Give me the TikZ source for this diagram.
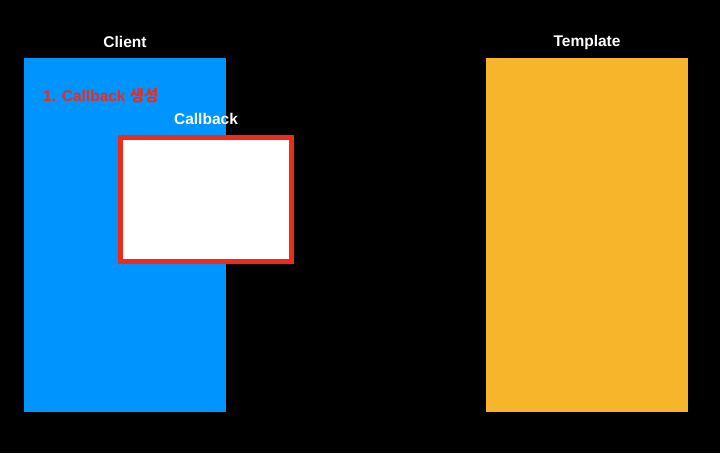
\documentclass[tikz,border=0pt]{standalone}
\usepackage{fontspec}
\setmainfont{Liberation Sans}
\newfontfamily\kor{Noto Sans CJK KR}
\definecolor{bgblack}{HTML}{000000}
\definecolor{clientblue}{HTML}{0094FF}
\definecolor{tplorange}{HTML}{F6B52B}
\definecolor{cbred}{HTML}{EE2B1B}
\begin{document}
\begin{tikzpicture}[x=1pt,y=-1pt,
  lbl/.style={font=\fontsize{15.5}{18}\selectfont\bfseries, text=white, inner sep=0pt, anchor=center},
  panel/.style={draw=none, inner sep=0pt, minimum width=202pt, minimum height=354pt, anchor=north west}]
\fill[bgblack] (0,0) rectangle (720,453);
\useasboundingbox (0,0) rectangle (720,453);
\node[panel, fill=clientblue] (client) at (24,58) {};
\node[panel, fill=tplorange] (template) at (486,58) {};
\node[lbl] (clientlbl) at (125,42) {Client};
\node[lbl] (templatelbl) at (587,42) {Template};
\node[draw=cbred, line width=5pt, fill=white, inner sep=0pt, minimum width=171pt, minimum height=124pt, anchor=north west] (callback) at (118,135) {};
\node[lbl] (callbacklbl) at (206,119) {Callback};
\node[lbl, text=cbred, anchor=west] (step1) at (43,96) {1. Callback {\kor\bfseries 생성}};
\end{tikzpicture}
\end{document}
